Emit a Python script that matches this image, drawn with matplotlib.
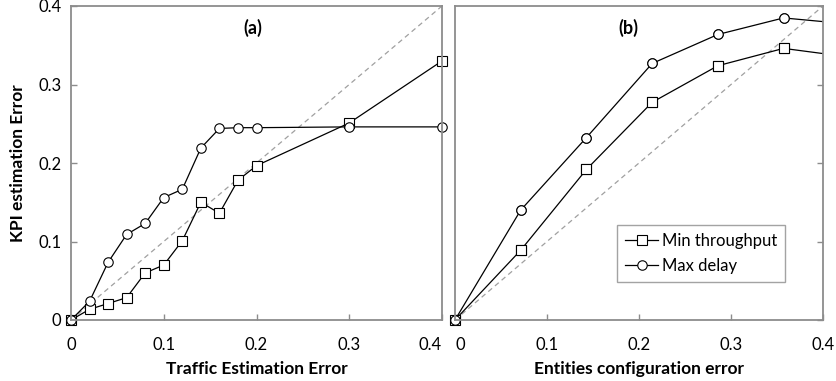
import numpy as np
import matplotlib
matplotlib.use("Agg")
import matplotlib.pyplot as plt

plt.rcParams['font.family'] = ['Lato', 'DejaVu Sans']

# panel (a): traffic estimation error
traffic_err = [0, 0.02, 0.04, 0.06, 0.08, 0.1, 0.12, 0.14, 0.16, 0.18, 0.2, 0.3, 0.4]
a_min_thr = [0, 0.0136, 0.021, 0.0285, 0.060, 0.070, 0.101, 0.150, 0.136, 0.178, 0.1966, 0.251, 0.330]
a_max_delay = [0, 0.0238, 0.0735, 0.109, 0.123, 0.156, 0.1665, 0.219, 0.244, 0.245, 0.245, 0.246, 0.246]

# panel (b): entities configuration error (k/14)
entity_err = [0, 1/14, 2/14, 3/14, 4/14, 5/14, 6/14]
b_min_thr = [0, 0.0889, 0.1918, 0.2773, 0.3239, 0.346, 0.335]
b_max_delay = [0, 0.140, 0.2324, 0.3268, 0.3637, 0.3848, 0.377]

ticks = [0, 0.1, 0.2, 0.3, 0.4]
tick_labels = ['0', '0.1', '0.2', '0.3', '0.4']

fig = plt.figure(figsize=(8.36, 3.81), dpi=100)
ax1 = fig.add_axes([71/836, 61/381, 371/836, 314/381])
ax2 = fig.add_axes([455/836, 61/381, 368/836, 314/381])

spine_col = '#8c8c8c'
sq = dict(marker='s', markersize=7.2, markerfacecolor='white', markeredgecolor='black', markeredgewidth=0.8)
ci = dict(marker='o', markersize=6.8, markerfacecolor='white', markeredgecolor='black', markeredgewidth=0.8)

for ax in (ax1, ax2):
    ax.plot([0, 0.4], [0, 0.4], '--', color='#a0a0a0', lw=0.9, dashes=(4, 3))
    ax.set_xlim(0, 0.4)
    ax.set_ylim(0, 0.4)
    ax.set_xticks(ticks)
    ax.set_xticklabels(tick_labels)
    ax.set_yticks(ticks)
    for s in ax.spines.values():
        s.set_color(spine_col)
        s.set_linewidth(1.3)
    ax.tick_params(direction='in', length=4, width=1, color=spine_col, labelsize=12, pad=7)
    ax.tick_params(axis='x', pad=12)

ax1.plot(traffic_err, a_min_thr, '-', color='black', lw=0.9, clip_on=False, **sq)
ax1.plot(traffic_err, a_max_delay, '-', color='black', lw=0.9, clip_on=False, **ci)
ax1.set_yticklabels(tick_labels)
ax1.get_xticklabels()[-1].set_horizontalalignment('right')
ax1.set_xlabel('Traffic Estimation Error', fontsize=12.5, fontweight='bold', labelpad=6)
ax1.set_ylabel('KPI estimation Error', fontsize=12.5, fontweight='bold', labelpad=9)
ax1.text(0.49, 0.93, '(a)', transform=ax1.transAxes, ha='center', va='center',
         fontsize=13, fontweight='bold')

l1, = ax2.plot(entity_err, b_min_thr, '-', color='black', lw=0.9, **sq)
l2, = ax2.plot(entity_err, b_max_delay, '-', color='black', lw=0.9, **ci)
inside = [i for i, v in enumerate(entity_err) if v <= 0.4]
ax2.plot([entity_err[i] for i in inside], [b_min_thr[i] for i in inside], ls='none', clip_on=False, **sq)
ax2.plot([entity_err[i] for i in inside], [b_max_delay[i] for i in inside], ls='none', clip_on=False, **ci)
ax2.yaxis.tick_right()
ax2.tick_params(axis='y', labelright=False)
ax2.get_xticklabels()[0].set_horizontalalignment('left')
ax2.set_xlabel('Entities configuration error', fontsize=12.5, fontweight='bold', labelpad=6)
ax2.text(0.47, 0.93, '(b)', transform=ax2.transAxes, ha='center', va='center',
         fontsize=13, fontweight='bold')
leg = ax2.legend([l1, l2], ['Min throughput', 'Max delay'], loc='lower right',
                 bbox_to_anchor=(0.92, 0.095), fancybox=False, fontsize=12,
                 handlelength=2.0, handletextpad=0.2, borderpad=0.5, labelspacing=0.5)
leg.get_frame().set_edgecolor(spine_col)
leg.get_frame().set_linewidth(1.0)

fig.savefig('out.png', dpi=100)
